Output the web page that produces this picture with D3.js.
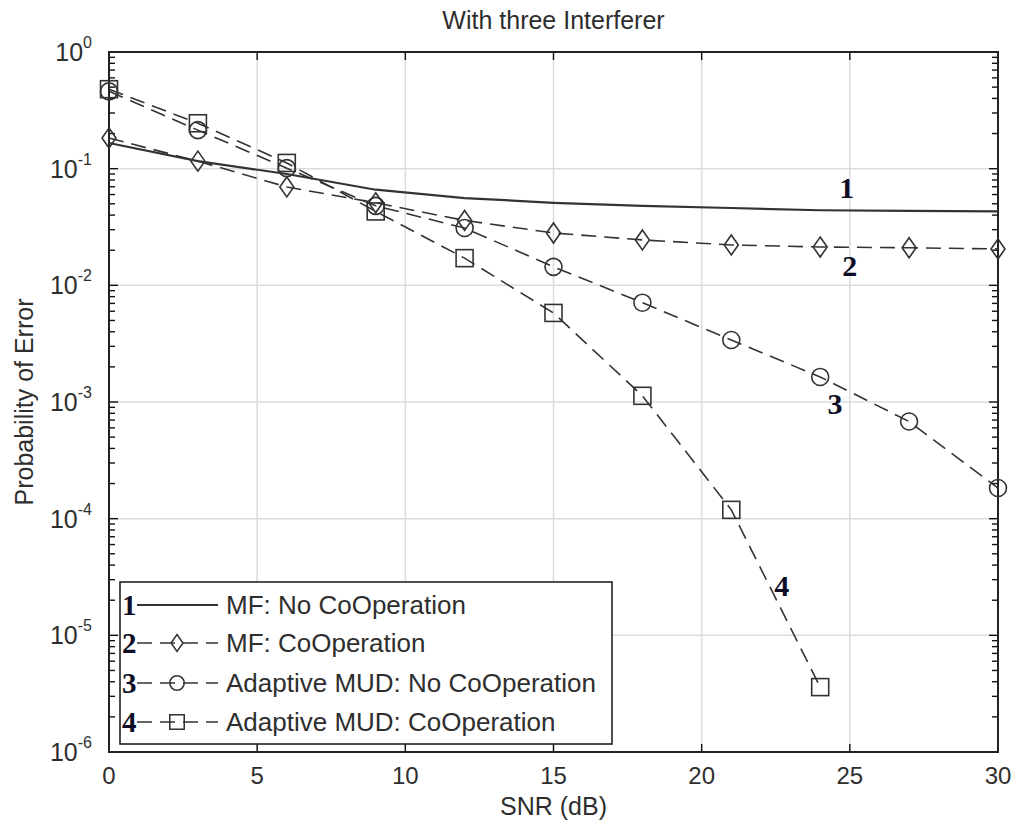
<!DOCTYPE html>
<html>
<head>
<meta charset="utf-8">
<script src="https://cdn.jsdelivr.net/npm/d3@7"></script>
<style>
  body { margin: 0; background: #fff; }
  svg { display: block; }
  text { font-family: "Liberation Sans", Arial, sans-serif; fill: #2e2e2e; }
  .num { font-family: "Liberation Serif", "Times New Roman", serif; font-weight: bold; fill: #0d0d26; }
</style>
</head>
<body>
<svg id="chart" width="1019" height="829"></svg>
<script>
// SNR grid (dB) and bit-error probabilities for each receiver
const snr = [0, 3, 6, 9, 12, 15, 18, 21, 24, 27, 30];
const mfNoCoop = [0.166, 0.116, 0.090, 0.066, 0.056, 0.051, 0.048, 0.046, 0.044, 0.0435, 0.043];
const mfCoop = [0.183, 0.116, 0.0697, 0.051, 0.036, 0.0281, 0.0245, 0.0222, 0.0213, 0.021, 0.0205];
const mudNoCoop = [0.46, 0.214, 0.101, 0.048, 0.031, 0.0144, 0.0071, 0.0034, 0.00164, 0.00068, 0.000183];
const snrCoop = [0, 3, 6, 9, 12, 15, 18, 21, 24];
const mudCoop = [0.48, 0.245, 0.112, 0.043, 0.0171, 0.0058, 0.00113, 0.000119, 0.0000036];

const xTicks = [0, 5, 10, 15, 20, 25, 30];
const yDecades = [0, -1, -2, -3, -4, -5, -6];
const seriesNames = ["MF: No CoOperation", "MF: CoOperation", "Adaptive MUD: No CoOperation", "Adaptive MUD: CoOperation"];
const curveTags = ["1", "2", "3", "4"];

const W = 1019, H = 829;
const m = { left: 109, right: 21, top: 52, bottom: 77 };
const iw = W - m.left - m.right, ih = H - m.top - m.bottom;

const svg = d3.select("#chart");
const x = d3.scaleLinear().domain([0, 30]).range([0, iw]);
const y = d3.scaleLog().domain([1e-6, 1]).range([ih, 0]);

const g = svg.append("g").attr("transform", `translate(${m.left},${m.top})`);

// grid
const grid = g.append("g").attr("stroke", "#dcdcdc").attr("stroke-width", 1.5);
grid.selectAll(".gx").data(xTicks.slice(1, -1)).join("line")
  .attr("x1", d => x(d)).attr("x2", d => x(d)).attr("y1", 0).attr("y2", ih);
grid.selectAll(".gy").data(yDecades.slice(1, -1)).join("line")
  .attr("x1", 0).attr("x2", iw).attr("y1", d => y(Math.pow(10, d))).attr("y2", d => y(Math.pow(10, d)));

// ticks (inward, on all four sides)
const ticks = g.append("g").attr("stroke", "#111").attr("stroke-width", 1.4);
xTicks.slice(1, -1).forEach(t => {
  ticks.append("line").attr("x1", x(t)).attr("x2", x(t)).attr("y1", ih).attr("y2", ih - 8);
  ticks.append("line").attr("x1", x(t)).attr("x2", x(t)).attr("y1", 0).attr("y2", 8);
});
for (let e = -6; e < 0; e++) {
  for (let k = 1; k <= 9; k++) {
    const v = k * Math.pow(10, e);
    const len = k === 1 ? 9 : 6;
    ticks.append("line").attr("x1", 0).attr("x2", len).attr("y1", y(v)).attr("y2", y(v));
    ticks.append("line").attr("x1", iw).attr("x2", iw - len).attr("y1", y(v)).attr("y2", y(v));
  }
}

// axes box
g.append("rect").attr("x", 0).attr("y", 0).attr("width", iw).attr("height", ih)
  .attr("fill", "none").attr("stroke", "#222").attr("stroke-width", 2);

// x tick labels
g.selectAll(".xl").data(xTicks).join("text")
  .attr("x", d => x(d)).attr("y", ih + 32)
  .attr("text-anchor", "middle").attr("font-size", 24)
  .text(d => d);

// y tick labels: 10^e
yDecades.forEach(e => {
  const t = g.append("text").attr("x", -17).attr("y", y(Math.pow(10, e)) + 9)
    .attr("text-anchor", "end").attr("font-size", 25);
  t.append("tspan").text("10");
  t.append("tspan").attr("dy", -13).attr("font-size", 16).text(e === 0 ? "0" : String(e));
});

// axis titles
svg.append("text").attr("x", m.left + iw / 2).attr("y", 29)
  .attr("text-anchor", "middle").attr("font-size", 25).text("With three Interferer");
svg.append("text").attr("x", m.left + iw / 2).attr("y", 815)
  .attr("text-anchor", "middle").attr("font-size", 25).text("SNR (dB)");
svg.append("text").attr("transform", `translate(33,${m.top + ih / 2}) rotate(-90)`)
  .attr("text-anchor", "middle").attr("font-size", 25).text("Probability of Error");

// curves
const lineColor = "#333";
const dash = "15,8";
const line = d3.line().x(d => x(d[0])).y(d => y(d[1]));
const series = [
  { xs: snr, ys: mfNoCoop, marker: null, dash: null },
  { xs: snr, ys: mfCoop, marker: "diamond", dash },
  { xs: snr, ys: mudNoCoop, marker: "circle", dash },
  { xs: snrCoop, ys: mudCoop, marker: "square", dash }
];

function drawMarker(sel, type) {
  if (type === "diamond") {
    sel.append("path").attr("d", "M0,-10L7,0L0,10L-7,0Z");
  } else if (type === "circle") {
    sel.append("circle").attr("r", 8.5);
  } else if (type === "square") {
    sel.append("rect").attr("x", -8.5).attr("y", -8.5).attr("width", 17).attr("height", 17);
  }
}

const plot = g.append("g");
series.forEach(s => {
  const pts = s.xs.map((v, i) => [v, s.ys[i]]);
  plot.append("path").datum(pts).attr("d", line)
    .attr("fill", "none").attr("stroke", lineColor)
    .attr("stroke-width", s.marker ? 1.6 : 2.2)
    .attr("stroke-dasharray", s.dash);
  if (s.marker) {
    const mg = plot.append("g").attr("fill", "none").attr("stroke", lineColor).attr("stroke-width", 1.6);
    pts.forEach(p => {
      const one = mg.append("g").attr("transform", `translate(${x(p[0])},${y(p[1])})`);
      drawMarker(one, s.marker);
    });
  }
});

// curve tags next to each curve
const tagPos = [[24.9, 0.069], [25.0, 0.0148], [24.5, 0.00098], [22.7, 0.0000265]];
tagPos.forEach((p, i) => {
  g.append("text").attr("class", "num").attr("x", x(p[0])).attr("y", y(p[1]))
    .attr("text-anchor", "middle").attr("dominant-baseline", "central")
    .attr("font-size", 30).text(curveTags[i]);
});

// legend
const lg = svg.append("g").attr("transform", "translate(120,582)");
lg.append("rect").attr("width", 492).attr("height", 162)
  .attr("fill", "#fff").attr("stroke", "#222").attr("stroke-width", 1.6);
const rowY = [23, 61, 101, 140];
series.forEach((s, i) => {
  const r = lg.append("g").attr("transform", `translate(0,${rowY[i]})`);
  r.append("text").attr("class", "num").attr("x", 2).attr("y", 0)
    .attr("dominant-baseline", "central").attr("font-size", 29).text(curveTags[i]);
  r.append("line").attr("x1", 17).attr("x2", 98).attr("y1", 0).attr("y2", 0)
    .attr("stroke", lineColor).attr("stroke-width", s.marker ? 1.6 : 2.2)
    .attr("stroke-dasharray", s.dash);
  if (s.marker) {
    const mk = r.append("g").attr("transform", "translate(57,0) scale(0.85)")
      .attr("fill", "none").attr("stroke", lineColor).attr("stroke-width", 1.8);
    drawMarker(mk, s.marker);
  }
  r.append("text").attr("x", 106).attr("y", 0).attr("dominant-baseline", "central")
    .attr("font-size", 26).text(seriesNames[i]);
});
</script>
</body>
</html>
